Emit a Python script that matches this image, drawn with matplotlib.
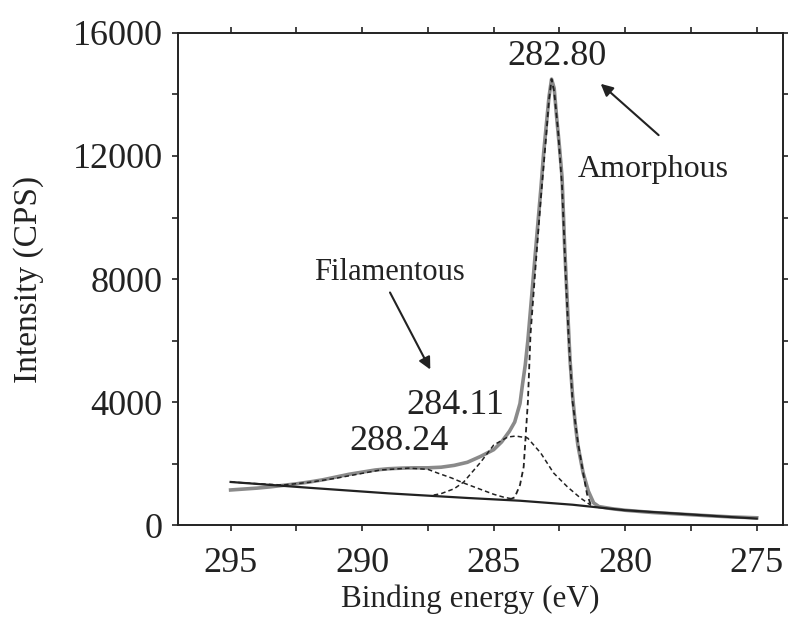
import matplotlib
matplotlib.use("Agg")
import matplotlib.pyplot as plt
from matplotlib.ticker import MultipleLocator

plt.rcParams['font.family'] = ['Liberation Serif', 'DejaVu Serif']

# measured spectrum (grey, noisy in the original)
data_ev = [295, 294.5, 294, 293.5, 293, 292.5, 292, 291.5, 291, 290.5, 290, 289.5, 289,
           288.5, 288, 287.5, 287, 286.5, 286, 285.5, 285, 284.7, 284.4, 284.2, 284.0,
           283.9, 283.8, 283.7, 283.6, 283.5, 283.4, 283.3, 283.2, 283.1, 283.0, 282.9,
           282.8, 282.7, 282.6, 282.5, 282.4, 282.3, 282.2, 282.1, 282.0, 281.9, 281.8,
           281.6, 281.4, 281.2, 281.0, 280.5, 280, 279, 278, 277, 276, 275]
data_cps = [1140, 1170, 1200, 1240, 1290, 1340, 1400, 1470, 1560, 1650, 1720, 1790, 1830,
            1850, 1860, 1860, 1880, 1940, 2040, 2230, 2450, 2700, 3050, 3350, 3950,
            4600, 5200, 6000, 7000, 8000, 9000, 10000, 11000, 12100, 13000, 13900,
            14500, 14200, 13200, 12300, 11300, 9000, 7200, 5400, 4200, 3300, 2600,
            1700, 1100, 720, 600, 530, 480, 410, 360, 310, 265, 235]

# background line
bg_ev = [295, 292, 289, 286, 284, 282, 280, 278, 276, 275]
bg_cps = [1400, 1210, 1030, 880, 790, 660, 480, 370, 260, 210]

# fitted component at 288.24 eV
p1_ev = [295, 294, 293, 292, 291, 290, 289.3, 288.24, 287.5, 287.13, 286.6, 286.14,
         285.5, 285.0, 284.6, 284.35]
p1_cps = [1400, 1345, 1300, 1390, 1520, 1680, 1790, 1850, 1810, 1690, 1530, 1366,
          1160, 1000, 900, 860]

# fitted component at 284.11 eV
p2_ev = [287.28, 287.0, 286.5, 286.14, 285.49, 285.0, 284.47, 284.16, 283.71, 283.21,
         282.72, 282.19, 281.7, 281.3]
p2_cps = [975, 1020, 1180, 1398, 2049, 2600, 2860, 2894, 2830, 2340,
          1690, 1236, 878, 640]

# fitted component at 282.80 eV
p3_ev = [284.4, 284.2, 284.0, 283.86, 283.7, 283.6, 283.4, 283.2, 283.0, 282.9, 282.8,
         282.7, 282.55, 282.4, 282.26, 282.15, 282.0, 281.8, 281.6, 281.45, 281.3]
p3_cps = [830, 900, 1300, 1890, 4000, 6200, 8500, 10700, 12700, 13800, 14500,
          14100, 12800, 11000, 8100, 6100, 4000, 2700, 1700, 1000, 640]

fig = plt.figure(figsize=(7.88, 6.26), dpi=100)
ax = fig.add_axes([0.2259, 0.1613, 0.7678, 0.786])

ax.plot(data_ev, data_cps, color='#8a8a8a', lw=2.6, zorder=2)
ax.plot(bg_ev, bg_cps, color='#222222', lw=1.6, zorder=3)
ax.plot(p1_ev, p1_cps, color='#222222', lw=1.1, ls=(0, (3, 2)), zorder=3)
ax.plot(p2_ev, p2_cps, color='#222222', lw=1.1, ls=(0, (3, 2)), zorder=3)
ax.plot(p3_ev, p3_cps, color='#222222', lw=1.3, ls=(0, (3, 2)), zorder=3)

ax.set_xlim(297, 274)
ax.set_ylim(0, 16000)
ax.xaxis.set_major_locator(MultipleLocator(5))
ax.xaxis.set_minor_locator(MultipleLocator(2.5))
ax.yaxis.set_major_locator(MultipleLocator(4000))
ax.yaxis.set_minor_locator(MultipleLocator(2000))
ax.tick_params(which='both', direction='out', top=True, right=True,
               length=4, width=1.2, labelsize=26, colors='#222222')
ax.tick_params(axis='x', pad=12)
ax.tick_params(axis='y', pad=7)
for s in ax.spines.values():
    s.set_linewidth(1.4)
    s.set_color('#222222')

ax.set_xlabel('Binding energy (eV)', fontsize=22.5, color='#222222')
ax.set_ylabel('Intensity (CPS)', fontsize=24, color='#222222')
ax.xaxis.set_label_coords(0.483, -0.12)
ax.yaxis.set_label_coords(-0.222, 0.5)

ax.text(282.6, 15250, '282.80', fontsize=26, ha='center', va='center', color='#222222')
ax.text(286.44, 3900, '284.11', fontsize=26, ha='center', va='center', color='#222222')
ax.text(288.6, 2730, '288.24', fontsize=26, ha='center', va='center', color='#222222')
ax.text(278.92, 11545, 'Amorphous', fontsize=23, ha='center', va='center', color='#222222')
ax.text(288.95, 8200, 'Filamentous', fontsize=22, ha='center', va='center', color='#222222')

ax.annotate('', xy=(281.01, 14407), xytext=(278.65, 12618),
            arrowprops=dict(arrowstyle='-|>', color='#222222', lw=1.5, mutation_scale=18))
ax.annotate('', xy=(287.36, 4976), xytext=(288.99, 7642),
            arrowprops=dict(arrowstyle='-|>', color='#222222', lw=1.5, mutation_scale=18))

fig.savefig('out.png', dpi=100)
